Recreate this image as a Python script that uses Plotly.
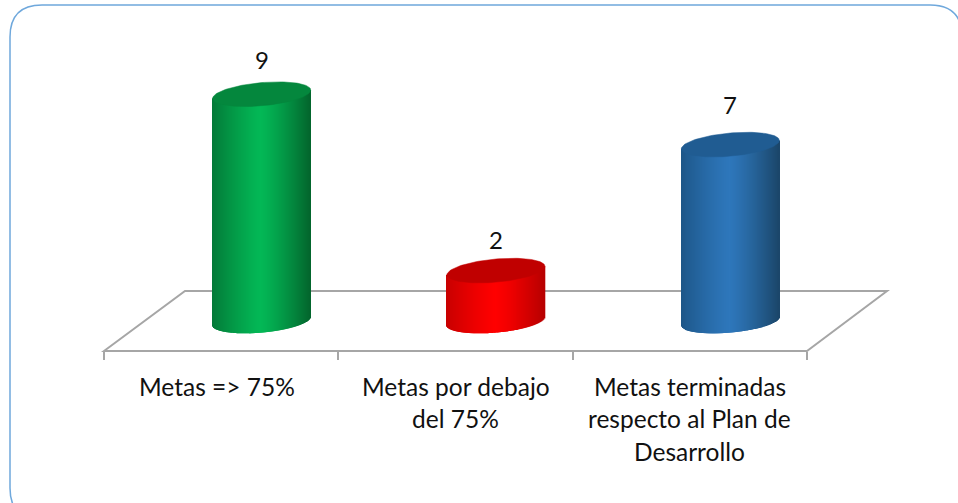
import numpy as np
import plotly.graph_objects as go

# --- data ---
categories = ["Metas => 75%", "Metas por debajo del 75%", "Metas terminadas respecto al Plan de Desarrollo"]
label_lines = [["Metas => 75%"], ["Metas por debajo", "del 75%"], ["Metas terminadas", "respecto al Plan de", "Desarrollo"]]
values = [9, 2, 7]

# --- styles ---
edge_left = ["#047a38", "#c80000", "#1d5688"]
middle = ["#03b856", "#ff0000", "#2e77bb"]
edge_right = ["#03652d", "#b80000", "#1b4669"]
top_colors = ["#04873d", "#c00000", "#205c92"]
label_yshift = [35, 31, 40]
label_xshift = [-4, 0, 0]

W, H = 958, 503
L, R, AXIS_Y = 104, 807, 351
UNIT_X = (R - L) / 3
UNIT_Y = 25.2
ZERO_Y = 321
OFFSET = 40.5 / UNIT_X      # cylinder depth shift
A = 49 / UNIT_X             # cylinder half width
B = 11.6 / UNIT_Y           # ellipse half height
TILT = 4.2 / UNIT_Y         # ellipse slope at its edge
y_top = ZERO_Y / UNIT_Y
y_bot = (ZERO_Y - AXIS_Y) / UNIT_Y


def rgb(h):
    return np.array([int(h[i:i + 2], 16) for i in (1, 3, 5)], float)


def shade(u, left, mid, right):
    t = abs(u) ** 1.25
    c = rgb(mid) + (rgb(left if u < 0 else right) - rgb(mid)) * t
    return "rgb(%d,%d,%d)" % tuple(c)


def px(x):
    return (x - L) / (R - L)


def py(y):
    return (AXIS_Y - y) / AXIS_Y


fig = go.Figure()

N = 99
us = (np.arange(N) + 0.5) / N * 2 - 1
for i, v in enumerate(values):
    base = TILT * us - B * np.sqrt(1 - us ** 2)
    top = v + TILT * us
    fig.add_trace(go.Bar(
        x=i + OFFSET + A * us, y=top - base, base=base,
        width=2 * A / N * 1.6,
        marker=dict(color=[shade(u, edge_left[i], middle[i], edge_right[i]) for u in us],
                    line=dict(width=0)),
        cliponaxis=False, hoverinfo="skip", showlegend=False, name=categories[i]))
    t = np.linspace(0, 2 * np.pi, 121)
    fig.add_trace(go.Scatter(
        x=i + OFFSET + A * np.cos(t), y=v + TILT * np.cos(t) + B * np.sin(t),
        mode="lines", fill="toself", fillcolor=top_colors[i],
        line=dict(color=top_colors[i], width=0.5),
        cliponaxis=False, hoverinfo="skip", showlegend=False))

annotations = []
for i, v in enumerate(values):
    annotations.append(dict(x=i + OFFSET, y=v, text=str(v), showarrow=False, xref="x", yref="y",
                            yanchor="middle", yshift=label_yshift[i],
                            font=dict(family="Lato", size=24, color="#111111")))
    for j, line in enumerate(label_lines[i]):
        annotations.append(dict(x=i, y=(AXIS_Y - (386 + 32.5 * j)) / AXIS_Y, text=line, showarrow=False,
                                xref="x", yref="paper", yanchor="middle", xshift=label_xshift[i],
                                font=dict(family="Lato", size=24.5, color="#111111")))

border_l, border_t, border_r, border_b, rad = 10, 5, 962, 520, 32
path = (f"M {px(border_l)} {py(border_t + rad)} "
        f"Q {px(border_l)} {py(border_t)} {px(border_l + rad)} {py(border_t)} "
        f"L {px(border_r - rad)} {py(border_t)} "
        f"Q {px(border_r)} {py(border_t)} {px(border_r)} {py(border_t + rad)} "
        f"L {px(border_r)} {py(border_b - rad)} "
        f"Q {px(border_r)} {py(border_b)} {px(border_r - rad)} {py(border_b)} "
        f"L {px(border_l + rad)} {py(border_b)} "
        f"Q {px(border_l)} {py(border_b)} {px(border_l)} {py(border_b - rad)} Z")
floor = (f"M {px(104)} {py(351)} L {px(185)} {py(291)} L {px(887)} {py(291)} "
         f"L {px(807)} {py(351)} Z")

fig.update_layout(
    width=W, height=H, margin=dict(l=L, r=W - R, t=0, b=H - AXIS_Y),
    paper_bgcolor="white", plot_bgcolor="rgba(0,0,0,0)",
    barmode="overlay", showlegend=False, annotations=annotations,
    shapes=[dict(type="path", path=path, xref="paper", yref="paper", layer="below",
                 line=dict(color="#6fa8dc", width=1.5), fillcolor="white"),
            dict(type="path", path=floor, xref="paper", yref="paper", layer="below",
                 line=dict(color="#a6a6a6", width=2), fillcolor="white")],
    xaxis=dict(range=[-0.5, 2.5], tickmode="array", tickvals=[0, 1, 2], ticktext=["", "", ""],
               ticks="", showgrid=False, zeroline=False, showline=False,
               minor=dict(tickmode="array", tickvals=[-0.5, 0.5, 1.5, 2.5], ticks="outside",
                          ticklen=8, tickwidth=1.5, tickcolor="#a6a6a6", showgrid=False)),
    yaxis=dict(range=[y_bot, y_top], visible=False),
)

fig.write_html("out.html", post_script="document.body.style.margin='0';", config=dict(displayModeBar=False))
